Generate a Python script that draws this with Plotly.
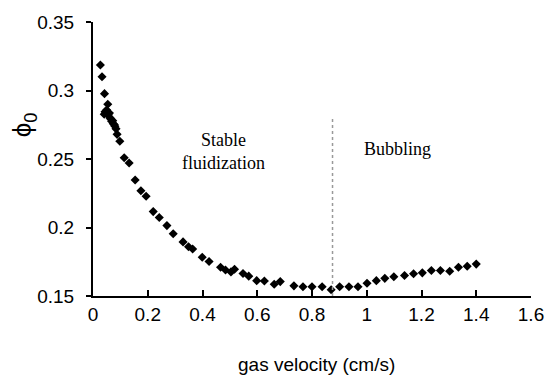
import plotly.graph_objects as go

gas_velocity = [0.027, 0.033, 0.042, 0.054, 0.041, 0.044, 0.050, 0.056, 0.060, 0.062,
                0.066, 0.068, 0.072, 0.074, 0.078, 0.080, 0.084, 0.088, 0.098, 0.114,
                0.132, 0.154, 0.175, 0.194, 0.220, 0.242, 0.270, 0.293, 0.329, 0.349,
                0.364, 0.399, 0.424, 0.466, 0.484, 0.504, 0.517, 0.548, 0.569, 0.598,
                0.626, 0.662, 0.684, 0.734, 0.767, 0.800, 0.837, 0.870, 0.901, 0.935,
                0.968, 1.001, 1.035, 1.066, 1.099, 1.138, 1.171, 1.203, 1.236, 1.269,
                1.303, 1.335, 1.367, 1.400]
phi0 = [0.3186, 0.3100, 0.2977, 0.2900, 0.2827, 0.2845, 0.2858, 0.2822, 0.2835, 0.2800,
        0.2790, 0.2775, 0.2780, 0.2758, 0.2750, 0.2739, 0.2720, 0.2680, 0.2630, 0.2509,
        0.2471, 0.2347, 0.2268, 0.2228, 0.2116, 0.2073, 0.2014, 0.1954, 0.1895, 0.1860,
        0.1843, 0.1783, 0.1752, 0.1710, 0.1690, 0.1676, 0.1695, 0.1664, 0.1645, 0.1612,
        0.1610, 0.1586, 0.1605, 0.1574, 0.1567, 0.1567, 0.1567, 0.1546, 0.1567, 0.1567,
        0.1567, 0.1593, 0.1612, 0.1629, 0.1640, 0.1650, 0.1662, 0.1669, 0.1686, 0.1686,
        0.1681, 0.1710, 0.1717, 0.1733]

x_ticks = [0, 0.2, 0.4, 0.6, 0.8, 1.0, 1.2, 1.4, 1.6]
x_tick_labels = ["0", "0.2", "0.4", "0.6", "0.8", "1", "1.2", "1.4", "1.6"]
y_ticks = [0.15, 0.2, 0.25, 0.3, 0.35]
y_tick_labels = ["0.15", "0.2", "0.25", "0.3", "0.35"]
transition_velocity = 0.875
regions = ["Stable<br>fluidization", "Bubbling"]
region_x = [0.478, 1.111]
region_y = [0.2555, 0.2575]

sans = "Liberation Sans, Arial, sans-serif"
serif = "Liberation Serif, Times New Roman, serif"

fig = go.Figure()
fig.add_trace(go.Scatter(
    x=gas_velocity, y=phi0, mode="markers",
    marker=dict(symbol="diamond", size=7, color="black"),
    showlegend=False, cliponaxis=False,
))

fig.add_shape(type="line", x0=transition_velocity, x1=transition_velocity,
              y0=0.15, y1=0.281, xref="x", yref="y",
              line=dict(color="#999999", width=1.5, dash="dot"))

for txt, xx, yy in zip(regions, region_x, region_y):
    fig.add_annotation(x=xx, y=yy, xref="x", yref="y", text=txt, showarrow=False,
                       font=dict(family=serif, size=18, color="black"), align="center")

fig.add_annotation(x=0.51, y=-0.249, xref="paper", yref="paper",
                   text="gas velocity (cm/s)", showarrow=False,
                   xanchor="center", yanchor="middle",
                   font=dict(family=sans, size=19, color="black"))
fig.add_annotation(x=-0.158, y=0.626, xref="paper", yref="paper",
                   text="ϕ<sub>0</sub>", showarrow=False, textangle=-90,
                   xanchor="center", yanchor="middle",
                   font=dict(family=sans, size=26, color="black"))

fig.update_layout(
    width=556, height=379,
    margin=dict(l=93, r=17, t=15, b=83),
    paper_bgcolor="white", plot_bgcolor="white",
    font=dict(family=sans, size=19, color="black"),
    xaxis=dict(range=[0, 1.6], tickvals=x_ticks, ticktext=x_tick_labels,
               showgrid=False, zeroline=False, showline=True, linecolor="black",
               linewidth=2, ticks="inside", ticklen=6, tickwidth=1.5, tickcolor="black",
               ticklabelstandoff=0),
    yaxis=dict(range=[0.15, 0.35], tickvals=y_ticks, ticktext=y_tick_labels,
               showgrid=False, zeroline=False, showline=True, linecolor="black",
               linewidth=2, ticks="outside", ticklen=5, tickwidth=1.5, tickcolor="black",
               ticklabelstandoff=8),
)

# Remove the page's default 8px body margin so the figure fills the window.
fig.write_html("out.html",
               config={"displayModeBar": False},
               post_script="document.body.style.margin='0';document.body.style.overflow='hidden';")
